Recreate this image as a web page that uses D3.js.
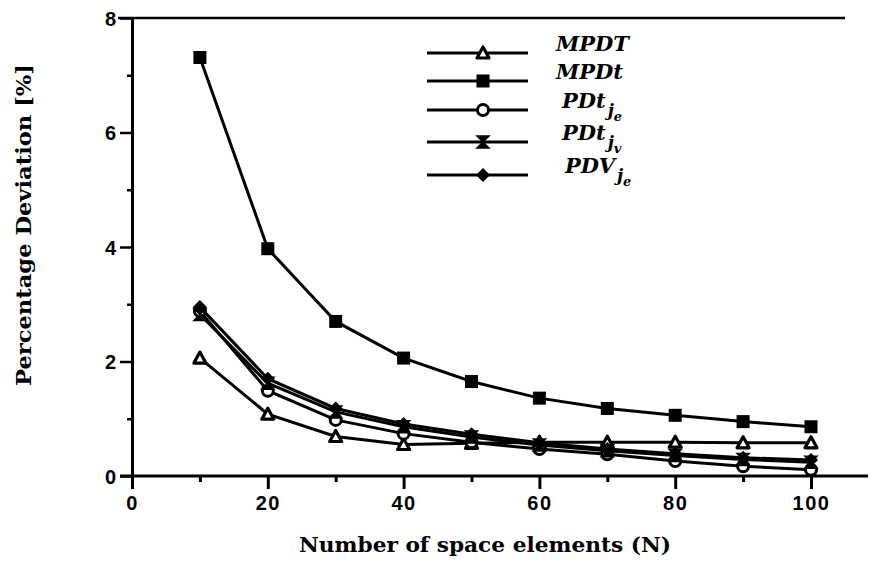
<!DOCTYPE html>
<html>
<head>
<meta charset="utf-8">
<script src="https://cdn.jsdelivr.net/npm/d3@7"></script>
<style>
  html, body { margin: 0; padding: 0; background: #fff; }
  svg { display: block; }
</style>
</head>
<body>
<svg id="chart" width="871" height="561"></svg>
<script>
// Number of space elements N
const elements = [10, 20, 30, 40, 50, 60, 70, 80, 90, 100];

// Percentage deviation for each method
const mpdT   = [2.06, 1.08, 0.69, 0.55, 0.57, 0.59, 0.59, 0.59, 0.58, 0.58];
const mpdt   = [7.31, 3.97, 2.70, 2.06, 1.65, 1.36, 1.18, 1.06, 0.95, 0.86];
const pdtJe  = [2.88, 1.49, 0.98, 0.74, 0.59, 0.47, 0.38, 0.26, 0.17, 0.11];
const pdtJv  = [2.82, 1.62, 1.12, 0.86, 0.68, 0.54, 0.44, 0.36, 0.29, 0.24];
const pdvJe  = [2.95, 1.70, 1.18, 0.91, 0.73, 0.58, 0.47, 0.39, 0.32, 0.28];

const xTicks = [0, 20, 40, 60, 80, 100];
const yTicks = [0, 2, 4, 6, 8];

const series = [
  { main: "MPDT", sub: "",  marker: "triangle", values: mpdT },
  { main: "MPDt", sub: "",  marker: "square",   values: mpdt },
  { main: "PDt",  sub: "e", marker: "circle",   values: pdtJe },
  { main: "PDt",  sub: "v", marker: "cross",    values: pdtJv },
  { main: "PDV",  sub: "e", marker: "diamond",  values: pdvJe }
];

const svg = d3.select("#chart");
const x = d3.scaleLinear().domain([0, 100]).range([132, 811]);
const y = d3.scaleLinear().domain([0, 8]).range([476, 18]);

// Frame lines: top border and extended baseline
svg.append("line").attr("x1", 118).attr("x2", 845).attr("y1", y(8)).attr("y2", y(8))
  .attr("stroke", "#000").attr("stroke-width", 2.5);
svg.append("line").attr("x1", 120).attr("x2", 868).attr("y1", y(0)).attr("y2", y(0))
  .attr("stroke", "#000").attr("stroke-width", 3);

// Axes
const xAxis = d3.axisBottom(x).tickValues(d3.range(0, 101, 10))
  .tickSize(0).tickFormat(d => xTicks.includes(d) ? d : "");
const gx = svg.append("g").attr("transform", `translate(0,${y(0)})`).call(xAxis);
gx.select(".domain").remove();
gx.selectAll(".tick line").attr("y2", d => d % 20 === 0 ? 13 : 6)
  .attr("stroke", "#000").attr("stroke-width", 3);
gx.selectAll(".tick text").attr("y", 20).attr("dy", "0.71em")
  .attr("font-family", "Liberation Sans, Arial, sans-serif").attr("font-weight", "bold")
  .attr("font-size", 20).attr("fill", "#000").attr("letter-spacing", 1.5);

const yAxis = d3.axisLeft(y).tickValues(d3.range(0, 9, 1))
  .tickSize(0).tickFormat(d => yTicks.includes(d) ? d : "");
const gy = svg.append("g").attr("transform", `translate(${x(0)},0)`).call(yAxis);
gy.select(".domain").attr("stroke", "#000").attr("stroke-width", 3);
gy.selectAll(".tick line").attr("x2", d => d % 2 === 0 ? -12 : -5)
  .attr("stroke", "#000").attr("stroke-width", 2.5);
gy.selectAll(".tick text").attr("x", -16).attr("dy", "0.36em")
  .attr("font-family", "Liberation Sans, Arial, sans-serif").attr("font-weight", "bold")
  .attr("font-size", 20).attr("fill", "#000");

// Axis titles
svg.append("text").attr("x", 485).attr("y", 552).attr("text-anchor", "middle")
  .attr("font-family", "DejaVu Serif, serif").attr("font-size", 21).attr("font-weight", "bold")
  .attr("textLength", 372).attr("lengthAdjust", "spacingAndGlyphs")
  .text("Number of space elements (N)");
svg.append("text").attr("transform", "translate(31,225) rotate(-90)").attr("text-anchor", "middle")
  .attr("font-family", "DejaVu Serif, serif").attr("font-size", 21).attr("font-weight", "bold")
  .attr("textLength", 322).attr("lengthAdjust", "spacingAndGlyphs")
  .text("Percentage Deviation [%]");

// Marker drawing
function drawMarker(g, type, cx, cy) {
  if (type === "triangle") {
    g.append("path").attr("d", `M${cx},${cy - 6} L${cx + 6},${cy + 5} L${cx - 6},${cy + 5} Z`)
      .attr("fill", "#fff").attr("stroke", "#000").attr("stroke-width", 3.2)
      .attr("stroke-linejoin", "round");
  } else if (type === "square") {
    g.append("rect").attr("x", cx - 6.5).attr("y", cy - 6.5).attr("width", 13).attr("height", 13)
      .attr("fill", "#000");
  } else if (type === "circle") {
    g.append("circle").attr("cx", cx).attr("cy", cy).attr("r", 5.5)
      .attr("fill", "#fff").attr("stroke", "#000").attr("stroke-width", 3);
  } else if (type === "cross") {
    g.append("path").attr("d", `M${cx - 6},${cy - 6} L${cx + 6},${cy - 6} L${cx},${cy} Z M${cx - 6},${cy + 6} L${cx + 6},${cy + 6} L${cx},${cy} Z`)
      .attr("fill", "#000").attr("stroke", "#000").attr("stroke-width", 1.5);
  } else if (type === "diamond") {
    g.append("path").attr("d", `M${cx},${cy - 7} L${cx + 7},${cy} L${cx},${cy + 7} L${cx - 7},${cy} Z`)
      .attr("fill", "#000");
  }
}

const line = d3.line().x((d, i) => x(elements[i])).y(d => y(d));

series.forEach(s => {
  const g = svg.append("g");
  g.append("path").datum(s.values).attr("d", line)
    .attr("fill", "none").attr("stroke", "#000").attr("stroke-width", 3);
  s.values.forEach((v, i) => drawMarker(g, s.marker, x(elements[i]), y(v)));
});

// Legend
const legendY = [53, 81, 110, 142, 175];
const legendTextX = [556, 556, 562, 562, 565];
series.forEach((s, i) => {
  const g = svg.append("g");
  g.append("line").attr("x1", 427).attr("x2", 528).attr("y1", legendY[i]).attr("y2", legendY[i])
    .attr("stroke", "#000").attr("stroke-width", 3);
  drawMarker(g, s.marker, 483, legendY[i]);
  const t = g.append("text").attr("x", legendTextX[i]).attr("y", legendY[i] - 2)
    .attr("font-family", "DejaVu Serif, serif").attr("font-style", "italic").attr("font-weight", "bold")
    .attr("font-size", 21);
  t.append("tspan").text(s.main);
  if (s.sub) {
    t.append("tspan").attr("dx", 2).attr("dy", 8).attr("font-size", 17).text("j");
    t.append("tspan").attr("dy", 5).attr("font-size", 13).text(s.sub);
  }
});
</script>
</body>
</html>
